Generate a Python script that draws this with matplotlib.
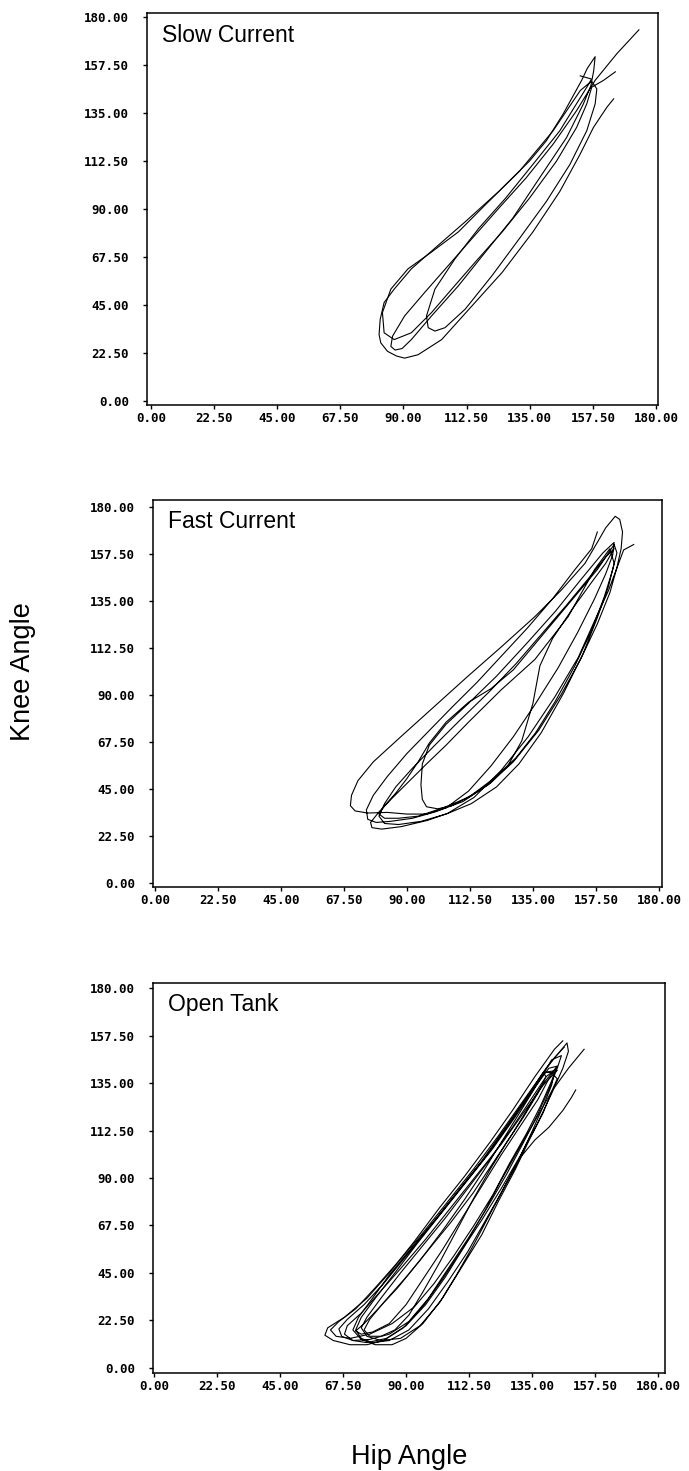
import matplotlib
matplotlib.use("Agg")
import matplotlib.pyplot as plt

# ---------------- data ----------------
tick_values = [0, 22.5, 45, 67.5, 90, 112.5, 135, 157.5, 180]
tick_labels = ["0.00", "22.50", "45.00", "67.50", "90.00", "112.50", "135.00", "157.50", "180.00"]

panel_titles = ["Slow Current", "Fast Current", "Open Tank"]
x_label = "Hip Angle"
y_label = "Knee Angle"

# Slow current: two traced strokes (hip angle, knee angle)
slow_hip = [
    [173.9, 166.1, 158.3, 151.7, 143.3, 133.7, 124.0, 114.4, 106.0, 97.6, 90.4, 86.1, 85.5, 87.0, 89.5,
     92.8, 100.0, 109.6, 119.2, 128.9, 138.5, 148.1, 154.1, 156.8, 157.8, 158.3, 155.5, 153.5, 146.9,
     140.9, 134.9, 124.0, 112.0, 102.4, 92.8, 86.7, 83.1, 81.7, 81.3, 81.9, 84.3, 87.5, 90.4, 95.2,
     103.6, 114.4, 125.2, 136.1, 145.7, 152.9, 157.7, 162.5, 164.9],
    [153.0, 157.0, 156.0, 151.0, 145.7, 136.1, 126.4, 116.8, 108.4, 101.2, 98.2, 98.8, 101.2, 104.8,
     112.0, 121.6, 131.3, 140.9, 149.3, 155.3, 158.3, 158.9, 157.0, 153.0, 143.3, 131.3, 119.2, 109.6,
     100.0, 91.6, 85.5, 82.5, 83.1, 86.7, 92.8, 100.0, 107.2, 115.6, 125.2, 134.9, 144.5, 151.7, 155.3,
     157.1, 161.3, 165.5],
]
slow_knee = [
    [174.1, 163.0, 150.4, 136.2, 120.4, 104.6, 90.4, 76.1, 63.5, 50.9, 39.8, 30.3, 25.5, 23.8, 24.5,
     28.7, 39.8, 54.0, 69.8, 85.6, 104.6, 123.5, 139.3, 148.0, 155.0, 161.5, 156.0, 150.4, 134.6,
     122.0, 112.5, 98.3, 84.0, 73.0, 61.9, 52.4, 46.1, 38.2, 31.1, 27.2, 23.2, 21.0, 20.0, 21.6,
     28.7, 44.5, 60.3, 79.2, 98.2, 115.6, 128.3, 137.8, 141.7],
    [152.5, 151.0, 148.6, 138.0, 126.7, 110.9, 95.1, 80.9, 66.7, 52.4, 39.8, 34.3, 32.7, 34.3,
     43.0, 58.8, 76.1, 93.5, 110.9, 126.7, 139.3, 146.4, 150.0, 145.6, 126.7, 107.7, 92.0, 79.3,
     69.8, 61.9, 52.4, 41.4, 31.9, 28.7, 31.9, 41.4, 52.4, 65.1, 79.3, 95.1, 112.4, 128.3, 139.3,
     147.2, 150.4, 154.4],
]

# Fast current: one long traced stroke
fast_hip = [
    [158.0, 156.0, 150.0, 142.0, 133.0, 124.0, 115.0, 106.0, 98.0, 90.0, 83.0, 78.0, 75.5, 76.0, 79.0,
     84.0, 92.0, 100.0, 110.0, 119.0, 128.0, 137.0, 145.0, 152.0, 158.0, 162.5, 165.0, 166.5, 167.0,
     166.0, 164.4, 161.0, 158.0, 153.6, 145.0, 135.7, 123.7, 111.8, 99.8, 87.8, 78.0, 72.5, 70.2,
     69.8, 71.5, 76.0, 83.0, 90.0, 97.0, 104.0, 112.0, 120.0, 128.0, 136.0, 144.0, 151.0, 157.0,
     161.0, 163.5, 164.0, 160.0, 152.0, 143.0, 133.0, 122.0, 112.0, 104.0, 98.0, 95.5, 95.0, 95.5,
     97.0, 101.0, 106.0, 113.0, 121.0, 129.0, 136.0, 143.0, 150.0, 156.0, 160.5, 163.5, 165.0, 164.0,
     158.0, 148.0, 138.0, 128.0, 120.0, 112.0, 104.0, 98.0, 94.0, 90.0, 86.0, 82.0, 80.0, 82.0, 87.0,
     94.0, 103.0, 112.0, 120.0, 126.0, 131.0, 135.0, 137.5, 142.0, 149.0, 156.0, 161.0, 164.0,
     161.0, 155.0, 147.0, 138.0, 129.0, 119.0, 109.0, 100.0, 92.0, 86.0, 82.0, 80.0, 82.0, 87.0, 95.0,
     104.0, 113.0, 122.0, 130.0, 138.0, 146.0, 153.0, 158.0, 162.0, 164.0, 162.5,
     157.0, 147.6, 135.7, 123.7, 112.0, 104.0, 97.0, 91.0, 85.0, 80.0, 77.0, 77.5, 81.0, 88.0, 97.4,
     104.6, 114.0, 123.7, 133.3, 142.8, 151.2, 157.2, 162.0, 165.6, 167.4, 171.0],
]
fast_knee = [
    [168.0, 160.0, 150.0, 136.0, 122.0, 109.0, 96.0, 84.0, 73.0, 62.0, 51.0, 42.0, 35.0, 30.5, 29.0,
     29.5, 31.0, 34.0, 39.0, 47.0, 58.0, 73.0, 90.0, 107.0, 124.0, 139.0, 151.0, 160.0, 168.0,
     174.0, 175.5, 170.0, 163.0, 153.0, 140.0, 127.5, 113.0, 99.0, 84.5, 70.0, 58.0, 49.0, 42.0,
     37.0, 34.5, 33.5, 33.8, 33.0, 33.0, 36.0, 44.0, 56.0, 70.0, 86.0, 103.0, 120.0, 136.0,
     148.0, 157.0, 163.0, 158.0, 145.0, 130.0, 115.0, 99.0, 86.0, 76.0, 66.0, 57.0, 47.0, 40.0,
     36.5, 35.5, 37.0, 42.0, 50.0, 60.0, 72.0, 87.0, 104.0, 121.0, 137.0, 150.0, 158.0, 162.0,
     150.0, 134.0, 118.0, 102.0, 93.0, 86.5, 77.0, 67.0, 58.0, 50.0, 43.0, 37.0, 33.0, 31.0, 31.0,
     32.0, 36.0, 41.0, 48.0, 56.0, 68.0, 86.0, 104.0, 117.0, 131.0, 144.0, 153.0, 160.0,
     156.0, 146.0, 133.0, 119.0, 105.0, 91.0, 78.0, 66.0, 55.0, 46.0, 38.0, 32.0, 28.5, 28.0, 29.5,
     33.0, 38.0, 46.0, 57.0, 72.0, 91.0, 110.0, 127.0, 142.0, 153.0, 160.0,
     150.0, 127.5, 107.0, 92.5, 77.0, 66.0, 57.0, 49.0, 41.0, 34.0, 29.0, 26.5, 25.8, 27.0, 30.0,
     33.4, 41.0, 54.0, 70.0, 89.0, 108.0, 126.0, 140.0, 153.0, 159.4, 162.0],
]

# Open tank: two traced strokes
open_hip = [
    [146.0, 143.0, 136.0, 128.0, 120.0, 111.0, 102.0, 93.0, 84.0, 76.0, 68.0, 62.0, 61.0, 64.0, 70.0,
     76.0, 82.0, 89.0, 96.0, 103.0, 110.0, 117.0, 124.0, 131.0, 137.0, 142.0, 146.0, 148.0, 147.5,
     145.0, 140.0, 133.0, 125.0, 117.0, 108.0, 99.0, 90.0, 82.0, 75.0, 69.0, 66.0, 67.0, 71.0, 77.0,
     84.0, 91.0, 98.0, 105.0, 112.0, 119.0, 126.0, 132.0, 137.0, 141.0, 144.0, 145.5,
     142.0, 138.0, 132.0, 125.0, 118.0, 111.0, 103.0, 95.0, 87.0, 80.0, 75.0, 72.0, 74.0, 78.0, 84.0,
     90.0, 96.0, 103.0, 110.0, 117.0, 124.0, 131.0, 137.0, 141.0, 144.0,
     141.0, 136.0, 129.0, 121.0, 112.0, 103.0, 94.0, 86.0, 79.0, 74.0, 72.0, 74.0, 78.0, 84.0, 91.0,
     98.0, 105.0, 112.0, 118.0, 124.0, 130.0, 135.0, 139.0, 142.0, 143.0,
     139.0, 134.0, 127.0, 119.0, 110.0, 101.0, 92.0, 84.0, 78.0, 73.0, 71.0, 74.0, 79.0, 85.0, 90.0,
     96.0, 103.0, 110.0, 117.0, 123.0, 129.0, 134.0, 139.0, 142.0, 144.0, 142.0,
     140.0, 135.0, 128.0, 120.0, 112.0, 104.0, 96.0, 88.0, 81.0, 76.0, 74.0, 76.0, 81.0, 88.0, 95.0,
     102.0, 108.0, 114.0, 120.0, 126.0, 131.0, 136.0, 141.0, 146.0, 149.0, 150.6],
    [146.5, 143.0, 138.0, 131.0, 123.0, 114.0, 105.0, 96.0, 87.0, 79.0, 72.0, 66.0, 63.0, 65.0, 70.0,
     77.0, 85.0, 93.0, 100.0, 107.0, 114.0, 121.0, 127.0, 133.0, 138.0, 142.0, 144.0,
     138.0, 134.0, 128.0, 121.0, 114.0, 106.0, 98.0, 90.0, 82.0, 77.0, 75.0, 77.0, 81.0, 86.0, 91.0,
     96.0, 102.0, 108.0, 114.0, 120.0, 126.0, 132.0, 137.0, 140.0, 139.0,
     144.0, 139.0, 132.0, 124.0, 115.0, 106.0, 97.0, 88.0, 80.0, 74.0, 69.0, 68.0, 71.0, 76.0, 83.0,
     90.0, 97.0, 104.0, 111.0, 118.0, 124.0, 130.0, 136.0, 142.0, 148.0, 153.6],
]
open_knee = [
    [155.0, 151.0, 138.0, 122.0, 107.0, 91.0, 76.0, 60.0, 45.0, 33.0, 24.0, 19.0, 15.5, 13.0, 11.0,
     11.0, 13.0, 19.0, 29.0, 42.0, 56.0, 70.0, 85.0, 101.0, 116.0, 130.0, 142.0, 150.0, 154.0,
     150.0, 142.0, 128.0, 113.0, 98.0, 83.0, 68.0, 53.0, 40.0, 30.0, 23.0, 18.5, 15.0, 13.0, 13.5,
     16.0, 22.0, 33.0, 47.0, 61.0, 76.0, 92.0, 107.0, 120.0, 132.0, 142.0, 148.0,
     146.0, 137.0, 124.0, 109.0, 94.0, 80.0, 65.0, 51.0, 38.0, 28.0, 21.0, 17.5, 16.0, 17.0, 21.0,
     30.0, 42.0, 56.0, 71.0, 86.0, 101.0, 115.0, 127.0, 137.0, 143.0,
     142.0, 133.0, 119.0, 104.0, 89.0, 74.0, 59.0, 45.0, 33.0, 24.0, 18.0, 14.0, 12.0, 13.0, 18.0,
     28.0, 41.0, 55.0, 69.0, 83.0, 98.0, 112.0, 124.0, 134.0, 140.0,
     140.0, 130.0, 116.0, 101.0, 86.0, 71.0, 57.0, 44.0, 33.0, 24.0, 18.0, 13.5, 11.0, 11.0, 14.0,
     21.0, 33.0, 48.0, 63.0, 79.0, 94.0, 108.0, 121.0, 131.0, 137.0, 140.0,
     138.0, 128.0, 114.0, 99.0, 85.0, 71.0, 58.0, 45.0, 33.0, 24.0, 19.0, 15.0, 13.0, 14.0, 20.0,
     31.0, 44.0, 58.0, 73.0, 88.0, 100.0, 108.0, 114.0, 122.0, 128.0, 131.7],
    [152.0, 147.0, 138.0, 125.0, 110.0, 94.0, 79.0, 64.0, 50.0, 38.0, 28.0, 22.0, 18.0, 15.0, 14.0,
     16.0, 21.0, 29.0, 40.0, 53.0, 67.0, 82.0, 97.0, 111.0, 124.0, 136.0, 143.0,
     133.0, 124.0, 111.0, 97.0, 83.0, 69.0, 56.0, 43.0, 31.0, 23.0, 18.0, 15.0, 15.0, 18.0, 25.0,
     36.0, 50.0, 65.0, 80.0, 94.0, 107.0, 119.0, 130.0, 138.0, 140.0,
     141.0, 134.0, 121.0, 106.0, 91.0, 76.0, 61.0, 47.0, 35.0, 26.0, 20.0, 16.0, 13.0, 12.0, 14.0,
     20.0, 30.0, 43.0, 58.0, 74.0, 89.0, 103.0, 117.0, 131.0, 142.0, 151.0],
]

panel_hips = [slow_hip, fast_hip, open_hip]
panel_knees = [slow_knee, fast_knee, open_knee]

# ---------------- layout (pixel frames) ----------------
W, H = 689, 1471
frames = [(147, 658, 13, 405), (153, 662, 500, 887), (153, 665, 983, 1373)]
xlims = [(-1.4, 180.7), (-0.7, 181.1), (-0.4, 182.5)]
ylims = [(-2.0, 182.0), (-1.9, 183.3), (-2.4, 182.4)]

fig = plt.figure(figsize=(W / 100, H / 100), dpi=100)
fig.patch.set_facecolor("white")

tick_font = dict(family="DejaVu Sans Mono", weight="bold", size=9)

for i in range(3):
    L, R, T, B = frames[i]
    ax = fig.add_axes([L / W, 1 - B / H, (R - L) / W, (B - T) / H])
    for hs, ks in zip(panel_hips[i], panel_knees[i]):
        ax.plot(hs, ks, color="black", lw=0.8, solid_joinstyle="round")
    ax.set_xlim(*xlims[i])
    ax.set_ylim(*ylims[i])
    ax.set_xticks(tick_values)
    ax.set_yticks(tick_values)
    ax.set_xticklabels(tick_labels, fontdict=tick_font)
    ax.set_yticklabels(tick_labels, fontdict=tick_font)
    ax.tick_params(axis="both", direction="out", length=3, width=1, color="black")
    ax.tick_params(axis="y", pad=10)
    ax.tick_params(axis="x", pad=2)
    for s in ax.spines.values():
        s.set_linewidth(1.1)
        s.set_color("black")
    ax.text(15 / (R - L), 1 - 22 / (B - T), panel_titles[i], transform=ax.transAxes,
            ha="left", va="center", fontsize=16.5, family="Liberation Sans")

fig.text(23 / W, 1 - 672 / H, y_label, rotation=90, ha="center", va="center",
         fontsize=19.5, family="Liberation Sans")
fig.text(409 / W, 1 - 1457 / H, x_label, ha="center", va="center",
         fontsize=19.5, family="Liberation Sans")

fig.savefig("out.png", dpi=100, facecolor="white")
